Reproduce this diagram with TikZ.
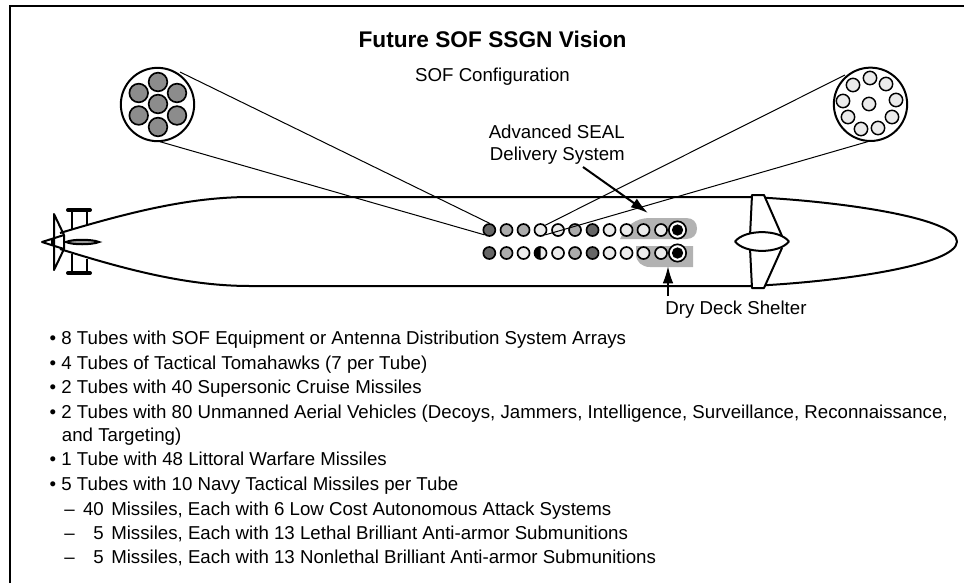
\documentclass[tikz,border=0pt]{standalone}
\usepackage{fontspec}
\usetikzlibrary{arrows.meta}
\setmainfont{Liberation Sans}
\begin{document}
\begin{tikzpicture}[x=0.75pt,y=-0.75pt,
  hull/.style={draw=black,line width=1.5pt,line join=round},
  thin line/.style={draw=black,line width=0.75pt},
  tube/.style={circle,draw=black,line width=1.25pt,minimum size=9pt,inner sep=0pt},
  dark/.style={tube,fill=black!60},
  mid/.style={tube,fill=black!33},
  light/.style={tube,fill=black!8},
  big/.style={circle,draw=black,line width=1.5pt,fill=white,inner sep=0pt},
  gr/.style={circle,draw=black,line width=1.25pt,fill=black!45,minimum size=14pt,inner sep=0pt},
  wh/.style={circle,draw=black,line width=1.1pt,fill=black!8,minimum size=10pt,inner sep=0pt},
  blob/.style={fill=black!30,draw=none},
  lab/.style={font=\fontsize{14}{16}\selectfont,inner sep=0pt},
  item/.style={font=\fontsize{14}{16}\selectfont,inner sep=0pt,anchor=base west},
  bar/.style={draw=black,line width=3pt,line cap=round},
  pointer/.style={draw=black,line width=1.5pt,-{Latex[length=13pt,width=8pt]}}]
\useasboundingbox (0,0) rectangle (964,583);
\draw[line width=1.5pt] (10,583) -- (10,6) -- (964,6);
\node[font=\bfseries\fontsize{17}{19}\selectfont,inner sep=0pt,anchor=base] (title) at (492.5,47.3) {Future SOF SSGN Vision};
\node[lab,anchor=base] (conf) at (492.5,81.7) {SOF Configuration};
\node[lab,anchor=base east] (asds1) at (625,138) {Advanced SEAL};
\node[lab,anchor=base east] (asds2) at (625,160) {Delivery System};
\node[lab,anchor=base] (dds) at (736,314) {Dry Deck Shelter};
% gray backgrounds
\fill[blob] (697,228.5) .. controls (697,235) and (693,239) .. (686,239) -- (620,239) .. controls (626,226) and (635,218) .. (650,218) -- (686,218) .. controls (693,218) and (697,222) .. (697,228.5) -- cycle;
\fill[blob] (693,246) -- (693,267) -- (650,267) .. controls (642,267) and (636,262) .. (636,254) -- (636,246) -- cycle;
% hull
\draw[hull] (60,233) .. controls (130,212) and (190,197) .. (250,197) -- (750,197) .. controls (840,201) and (957,218) .. (957,241.5) .. controls (957,265) and (840,282) .. (750,286) -- (250,286) .. controls (190,286) and (130,271) .. (60,249);
% tail
\draw[hull] (54,214) -- (54,270) -- (64,249) -- (64,235) -- cycle;
\draw[hull] (64,235) -- (42,242) -- (64,249);
\draw[hull] (52,238) -- (52,246);
\draw[hull] (72,210) -- (72,230) (87,210) -- (87,225);
\draw[hull] (72,254) -- (72,273) (87,259) -- (87,273);
\draw[bar] (68,210) -- (90,210);
\draw[bar] (68,273) -- (90,273);
\draw[black,line width=1.5pt,fill=black!40] (66,242) .. controls (72,239) and (92,239) .. (99,242) .. controls (92,245) and (72,245) .. (66,242) -- cycle;
% sail planes
\draw[hull,fill=white] (750,236) -- (752,195) -- (764,195) -- (782,236);
\draw[hull,fill=white] (750,248) -- (752,288) -- (764,288) -- (782,248);
\draw[hull,fill=white] (735,241.5) .. controls (745,229) and (779,229) .. (789,241.5) .. controls (779,254) and (745,254) .. (735,241.5) -- cycle;
% left tube cluster
\node[big,minimum size=55pt] (L) at (157.5,104.5) {};
\node[gr] (L0) at (158,104) {};
\node[gr] (L1) at (158,82) {};
\node[gr] (L2) at (177,93) {};
\node[gr] (L3) at (177,115.5) {};
\node[gr] (L4) at (158,127) {};
\node[gr] (L5) at (138.7,115.5) {};
\node[gr] (L6) at (138.7,93) {};
% right tube cluster
\node[big,minimum size=55pt] (R) at (870.5,104.3) {};
\node[wh] (R0) at (869,104) {};
\node[wh] (R1) at (870,78) {};
\node[wh] (R2) at (886,84) {};
\node[wh] (R3) at (896,100) {};
\node[wh] (R4) at (892,117) {};
\node[wh] (R5) at (878,128) {};
\node[wh] (R6) at (861,129) {};
\node[wh] (R7) at (848,117) {};
\node[wh] (R8) at (843,101) {};
\node[wh] (R9) at (853,85) {};
% tubes row 1
\node[dark] (a1) at (489.3,230) {};
\node[mid] (a2) at (506.5,230) {};
\node[mid] (a3) at (523.5,230) {};
\node[light] (a4) at (540.5,230) {};
\node[light] (a5) at (558,230) {};
\node[mid] (a6) at (575,230) {};
\node[dark] (a7) at (592.5,230) {};
\node[light] (a8) at (609.5,230) {};
\node[light] (a9) at (626.5,230) {};
\node[light] (a10) at (643.5,230) {};
\node[light] (a11) at (661,230) {};
% tubes row 2
\node[dark] (b1) at (489.3,253) {};
\node[mid] (b2) at (506.5,253) {};
\node[light] (b3) at (523.5,253) {};
\node[light] (b4) at (540.5,253) {};
\fill (b4.north) arc[start angle=90,end angle=270,radius=4.5pt] -- cycle;
\node[light] (b5) at (558,253) {};
\node[mid] (b6) at (575,253) {};
\node[dark] (b7) at (592.5,253) {};
\node[light] (b8) at (609.5,253) {};
\node[light] (b9) at (626.5,253) {};
\node[light] (b10) at (643.5,253) {};
\node[light] (b11) at (661,253) {};
% black tubes
\foreach \n/\yy in {a12/230,b12/253}{
  \node[circle,draw=black,line width=1.25pt,fill=white,minimum size=13pt,inner sep=0pt] (\n) at (677.5,\yy) {};
  \node[circle,fill=black,minimum size=8.5pt,inner sep=0pt] (\n c) at (677.5,\yy) {};
}
% connectors
\coordinate (Lu) at (180,72);\coordinate (Ll) at (160,141.7);
\coordinate (Ru) at (845,75);\coordinate (Rl) at (870,141);
\draw[thin line] (Lu) -- (a1.north);
\draw[thin line] (Ll) -- (a1.south west);
\draw[thin line] (Ru) -- (a4.north east);
\draw[thin line] (Rl) -- (a4.south east);
\coordinate (p1) at (583,167);
\coordinate (p2) at (648,213);
\draw[pointer] (p1) -- (p2);
\coordinate (d1) at (668,296);
\coordinate (d2) at (668,266);
\draw[pointer] (d1) -- (d2);
% bullets
\node[item] (t1) at (49.4,344) {• 8 Tubes with SOF Equipment or Antenna Distribution System Arrays};
\node[item] (t2) at (49.4,369) {• 4 Tubes of Tactical Tomahawks (7 per Tube)};
\node[item] (t3) at (49.4,393) {• 2 Tubes with 40 Supersonic Cruise Missiles};
\node[item] (t4) at (49.4,418) {• 2 Tubes with 80 Unmanned Aerial Vehicles (Decoys, Jammers, Intelligence, Surveillance, Reconnaissance,};
\node[item] (t5) at (61.7,441) {and Targeting)};
\node[item] (t6) at (49.4,465) {• 1 Tube with 48 Littoral Warfare Missiles};
\node[item] (t7) at (49.4,490) {• 5 Tubes with 10 Navy Tactical Missiles per Tube};
\node[item] (t8) at (64,515) {–\hspace{6.3pt}40\hspace{5.6pt}Missiles, Each with 6 Low Cost Autonomous Attack Systems};
\node[item] (t9) at (64,539) {–\hspace{14.1pt}5\hspace{5.6pt}Missiles, Each with 13 Lethal Brilliant Anti-armor Submunitions};
\node[item] (t10) at (64,563) {–\hspace{14.1pt}5\hspace{5.6pt}Missiles, Each with 13 Nonlethal Brilliant Anti-armor Submunitions};
\end{tikzpicture}
\end{document}
